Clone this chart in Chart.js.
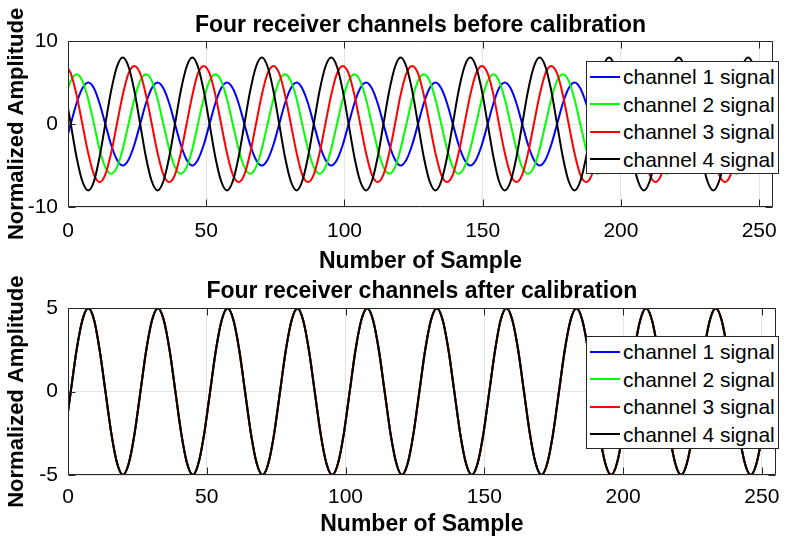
<!DOCTYPE html>
<html>
<head>
<meta charset="utf-8">
<title>Four receiver channels</title>
<script src="https://cdn.jsdelivr.net/npm/chart.js@4.4.1/dist/chart.umd.min.js"></script>
<style>
  html, body { margin: 0; padding: 0; background: #fff; }
  body { width: 789px; height: 539px; overflow: hidden; position: relative; }
  canvas { position: absolute; left: 0; }
  #topCanvas { top: 0; }
  #bottomCanvas { top: 272px; }
  .legend {
    position: absolute;
    width: 191px;
    padding: 1px 0 0 0;
    background: #fff;
    border: 1px solid #262626;
    font-family: 'Liberation Sans', Arial, Helvetica, sans-serif;
    font-size: 21px;
    color: #000;
  }
  .legend .row { height: 27.5px; line-height: 27.5px; display: flex; align-items: center; white-space: nowrap; }
  .legend .swatch { display: inline-block; width: 30px; height: 2px; margin: 0 3px; }
</style>
</head>
<body>
<canvas id="topCanvas" width="789" height="280"></canvas>
<canvas id="bottomCanvas" width="789" height="269"></canvas>
<div class="legend" id="topLegend" style="left:586px; top:61px;"></div>
<div class="legend" id="bottomLegend" style="left:586px; top:336px;"></div>
<script>
// sample positions the curves were read at (every ~1/12 period)
const sampleX = [0,
  1.0, 3.1, 5.2, 7.3, 9.4, 11.4, 13.5, 15.6, 17.7, 19.8, 21.9, 24.0,
  26.1, 28.2, 30.3, 32.4, 34.5, 36.6, 38.7, 40.8, 42.9, 45.0, 47.0, 49.1,
  51.2, 53.3, 55.4, 57.5, 59.6, 61.7, 63.8, 65.9, 68.0, 70.1, 72.2, 74.3,
  76.4, 78.5, 80.6, 82.7, 84.7, 86.8, 88.9, 91.0, 93.1, 95.2, 97.3, 99.4,
  101.5, 103.6, 105.7, 107.8, 109.9, 112.0, 114.1, 116.2, 118.3, 120.3, 122.4, 124.5,
  126.6, 128.7, 130.8, 132.9, 135.0, 137.1, 139.2, 141.3, 143.4, 145.5, 147.6, 149.7,
  151.8, 153.9, 155.9, 158.0, 160.1, 162.2, 164.3, 166.4, 168.5, 170.6, 172.7, 174.8,
  176.9, 179.0, 181.1, 183.2, 185.3, 187.4, 189.5, 191.5, 193.6, 195.7, 197.8, 199.9,
  202.0, 204.1, 206.2, 208.3, 210.4, 212.5, 214.6, 216.7, 218.8, 220.9, 223.0, 225.1,
  227.1, 229.2, 231.3, 233.4, 235.5, 237.6, 239.7, 241.8, 243.9, 246.0, 248.1, 250.2,
  252.3, 254.4, 255];

// before calibration
const ch1Before = [-1.2,
  0, 2.5, 4.3, 5, 4.3, 2.5, 0, -2.5, -4.3, -5, -4.3, -2.5,
  0, 2.5, 4.3, 5, 4.3, 2.5, 0, -2.5, -4.3, -5, -4.3, -2.5,
  0, 2.5, 4.3, 5, 4.3, 2.5, 0, -2.5, -4.3, -5, -4.3, -2.5,
  0, 2.5, 4.3, 5, 4.3, 2.5, 0, -2.5, -4.3, -5, -4.3, -2.5,
  0, 2.5, 4.3, 5, 4.3, 2.5, 0, -2.5, -4.3, -5, -4.3, -2.5,
  0, 2.5, 4.3, 5, 4.3, 2.5, 0, -2.5, -4.3, -5, -4.3, -2.5,
  0, 2.5, 4.3, 5, 4.3, 2.5, 0, -2.5, -4.3, -5, -4.3, -2.5,
  0, 2.5, 4.3, 5, 4.3, 2.5, 0, -2.5, -4.3, -5, -4.3, -2.5,
  0, 2.5, 4.3, 5, 4.3, 2.5, 0, -2.5, -4.3, -5, -4.3, -2.5,
  0, 2.5, 4.3, 5, 4.3, 2.5, 0, -2.5, -4.3, -5, -4.3, -2.5,
  0, 2.5, 3.1];
const ch2Before = [4.3,
  5.2, 6, 5.2, 3, 0, -3, -5.2, -6, -5.2, -3, 0, 3,
  5.2, 6, 5.2, 3, 0, -3, -5.2, -6, -5.2, -3, 0, 3,
  5.2, 6, 5.2, 3, 0, -3, -5.2, -6, -5.2, -3, 0, 3,
  5.2, 6, 5.2, 3, 0, -3, -5.2, -6, -5.2, -3, 0, 3,
  5.2, 6, 5.2, 3, 0, -3, -5.2, -6, -5.2, -3, 0, 3,
  5.2, 6, 5.2, 3, 0, -3, -5.2, -6, -5.2, -3, 0, 3,
  5.2, 6, 5.2, 3, 0, -3, -5.2, -6, -5.2, -3, 0, 3,
  5.2, 6, 5.2, 3, 0, -3, -5.2, -6, -5.2, -3, 0, 3,
  5.2, 6, 5.2, 3, 0, -3, -5.2, -6, -5.2, -3, 0, 3,
  5.2, 6, 5.2, 3, 0, -3, -5.2, -6, -5.2, -3, 0, 3,
  5.2, 6, 5.9];
const ch3Before = [6.7,
  6.1, 3.5, 0, -3.5, -6.1, -7, -6.1, -3.5, 0, 3.5, 6.1, 7,
  6.1, 3.5, 0, -3.5, -6.1, -7, -6.1, -3.5, 0, 3.5, 6.1, 7,
  6.1, 3.5, 0, -3.5, -6.1, -7, -6.1, -3.5, 0, 3.5, 6.1, 7,
  6.1, 3.5, 0, -3.5, -6.1, -7, -6.1, -3.5, 0, 3.5, 6.1, 7,
  6.1, 3.5, 0, -3.5, -6.1, -7, -6.1, -3.5, 0, 3.5, 6.1, 7,
  6.1, 3.5, 0, -3.5, -6.1, -7, -6.1, -3.5, 0, 3.5, 6.1, 7,
  6.1, 3.5, 0, -3.5, -6.1, -7, -6.1, -3.5, 0, 3.5, 6.1, 7,
  6.1, 3.5, 0, -3.5, -6.1, -7, -6.1, -3.5, 0, 3.5, 6.1, 7,
  6.1, 3.5, 0, -3.5, -6.1, -7, -6.1, -3.5, 0, 3.5, 6.1, 7,
  6.1, 3.5, 0, -3.5, -6.1, -7, -6.1, -3.5, 0, 3.5, 6.1, 7,
  6.1, 3.5, 2.5];
const ch4Before = [1.9,
  0, -4, -6.9, -8, -6.9, -4, 0, 4, 6.9, 8, 6.9, 4,
  0, -4, -6.9, -8, -6.9, -4, 0, 4, 6.9, 8, 6.9, 4,
  0, -4, -6.9, -8, -6.9, -4, 0, 4, 6.9, 8, 6.9, 4,
  0, -4, -6.9, -8, -6.9, -4, 0, 4, 6.9, 8, 6.9, 4,
  0, -4, -6.9, -8, -6.9, -4, 0, 4, 6.9, 8, 6.9, 4,
  0, -4, -6.9, -8, -6.9, -4, 0, 4, 6.9, 8, 6.9, 4,
  0, -4, -6.9, -8, -6.9, -4, 0, 4, 6.9, 8, 6.9, 4,
  0, -4, -6.9, -8, -6.9, -4, 0, 4, 6.9, 8, 6.9, 4,
  0, -4, -6.9, -8, -6.9, -4, 0, 4, 6.9, 8, 6.9, 4,
  0, -4, -6.9, -8, -6.9, -4, 0, 4, 6.9, 8, 6.9, 4,
  0, -4, -5.0];

// after calibration all four channels sit on the same curve
const afterCal = [-1.2,
  0, 2.5, 4.3, 5, 4.3, 2.5, 0, -2.5, -4.3, -5, -4.3, -2.5,
  0, 2.5, 4.3, 5, 4.3, 2.5, 0, -2.5, -4.3, -5, -4.3, -2.5,
  0, 2.5, 4.3, 5, 4.3, 2.5, 0, -2.5, -4.3, -5, -4.3, -2.5,
  0, 2.5, 4.3, 5, 4.3, 2.5, 0, -2.5, -4.3, -5, -4.3, -2.5,
  0, 2.5, 4.3, 5, 4.3, 2.5, 0, -2.5, -4.3, -5, -4.3, -2.5,
  0, 2.5, 4.3, 5, 4.3, 2.5, 0, -2.5, -4.3, -5, -4.3, -2.5,
  0, 2.5, 4.3, 5, 4.3, 2.5, 0, -2.5, -4.3, -5, -4.3, -2.5,
  0, 2.5, 4.3, 5, 4.3, 2.5, 0, -2.5, -4.3, -5, -4.3, -2.5,
  0, 2.5, 4.3, 5, 4.3, 2.5, 0, -2.5, -4.3, -5, -4.3, -2.5,
  0, 2.5, 4.3, 5, 4.3, 2.5, 0, -2.5, -4.3, -5, -4.3, -2.5,
  0, 2.5, 3.1];

const channelNames = ["channel 1 signal", "channel 2 signal", "channel 3 signal", "channel 4 signal"];
const channelColors = ["#0000ff", "#00ff00", "#ff0000", "#000000"];
const xTicks = [0, 50, 100, 150, 200, 250];
const yTicksBefore = [-10, 0, 10];
const yTicksAfter = [-5, 0, 5];

const FONT = "'Liberation Sans', Arial, Helvetica, sans-serif";

// matlab style box around the axes with inward tick marks
const boxAndTicks = {
  id: "boxAndTicks",
  afterDatasetsDraw(chart) {
    const { ctx, chartArea: area, scales } = chart;
    const len = 7;
    const left = Math.round(area.left) + 0.5;
    const right = Math.round(area.right) - 0.5;
    const top = Math.round(area.top) + 0.5;
    const bottom = Math.round(area.bottom) - 0.5;
    ctx.save();
    ctx.strokeStyle = "#262626";
    ctx.lineWidth = 1;
    ctx.beginPath();
    scales.x.ticks.forEach((t) => {
      const px = Math.round(scales.x.getPixelForValue(t.value)) + 0.5;
      ctx.moveTo(px, bottom);
      ctx.lineTo(px, bottom - len);
      ctx.moveTo(px, top);
      ctx.lineTo(px, top + len);
    });
    scales.y.ticks.forEach((t) => {
      const py = Math.round(scales.y.getPixelForValue(t.value)) + 0.5;
      ctx.moveTo(left, py);
      ctx.lineTo(left + len, py);
      ctx.moveTo(right, py);
      ctx.lineTo(right - len, py);
    });
    ctx.rect(left, top, right - left, bottom - top);
    ctx.stroke();
    ctx.restore();
  },
};

function signalChart(canvasId, cfg) {
  return new Chart(document.getElementById(canvasId), {
    type: "line",
    data: {
      datasets: cfg.series.map((ys, i) => ({
        label: channelNames[i],
        data: sampleX.map((x, k) => ({ x: x, y: ys[k] })),
        borderColor: channelColors[i],
        borderWidth: 2,
        pointRadius: 0,
        cubicInterpolationMode: "monotone",
        fill: false,
        order: channelNames.length - i, // channel 4 drawn last, on top
      })),
    },
    options: {
      responsive: false,
      animation: false,
      events: [],
      layout: { padding: { left: 0, right: 3, top: 0, bottom: 0 } },
      plugins: {
        legend: { display: false },
        tooltip: { enabled: false },
        title: {
          display: true,
          text: cfg.title,
          fullSize: false,
          color: "#000",
          font: { family: FONT, size: 23, weight: "bold", lineHeight: 1.2 },
          padding: cfg.titlePad,
        },
      },
      scales: {
        x: {
          type: "linear",
          min: 0,
          max: 255,
          afterBuildTicks: (s) => { s.ticks = xTicks.map((v) => ({ value: v })); },
          afterFit: (s) => { s.height = cfg.xHeight; },
          grid: { color: "#e3e3e3", drawTicks: false },
          border: { display: false },
          ticks: { padding: cfg.xTickPad, color: "#000", maxRotation: 0, font: { family: FONT, size: 21 } },
          title: {
            display: true,
            text: "Number of Sample",
            color: "#000",
            font: { family: FONT, size: 23, weight: "bold", lineHeight: 1.2 },
            padding: { top: 0, bottom: cfg.xTitlePad },
          },
        },
        y: {
          type: "linear",
          min: cfg.yTicks[0],
          max: cfg.yTicks[cfg.yTicks.length - 1],
          afterBuildTicks: (s) => { s.ticks = cfg.yTicks.map((v) => ({ value: v })); },
          afterFit: (s) => { s.width = 68; },
          grid: { color: "#e3e3e3", drawTicks: false },
          border: { display: false },
          ticks: { padding: 10, color: "#000", font: { family: FONT, size: 21 } },
          title: {
            display: true,
            text: "Normalized Amplitude",
            color: "#000",
            font: { family: FONT, size: 22, weight: "bold", lineHeight: 1.2 },
            padding: { top: 4, bottom: 0 },
          },
        },
      },
    },
    plugins: [boxAndTicks],
  });
}

// legend boxes sit inside the plot, top right, like the matlab figure
function buildLegend(chart, boxId) {
  const box = document.getElementById(boxId);
  box.innerHTML = "";
  chart.data.datasets.forEach((ds) => {
    const row = document.createElement("div");
    row.className = "row";
    const swatch = document.createElement("span");
    swatch.className = "swatch";
    swatch.style.background = ds.borderColor;
    const label = document.createElement("span");
    label.textContent = ds.label;
    row.appendChild(swatch);
    row.appendChild(label);
    box.appendChild(row);
  });
}

const beforeChart = signalChart("topCanvas", {
  title: "Four receiver channels before calibration",
  series: [ch1Before, ch2Before, ch3Before, ch4Before],
  yTicks: yTicksBefore,
  titlePad: { top: 12, bottom: 1.4 },
  xHeight: 73,
  xTickPad: 12,
  xTitlePad: 4.2,
});

const afterChart = signalChart("bottomCanvas", {
  title: "Four receiver channels after calibration",
  series: [afterCal, afterCal, afterCal, afterCal],
  yTicks: yTicksAfter,
  titlePad: { top: 5.9, bottom: 2.8 },
  xHeight: 66,
  xTickPad: 9.4,
  xTitlePad: 2.2,
});

buildLegend(beforeChart, "topLegend");
buildLegend(afterChart, "bottomLegend");
</script>
</body>
</html>
